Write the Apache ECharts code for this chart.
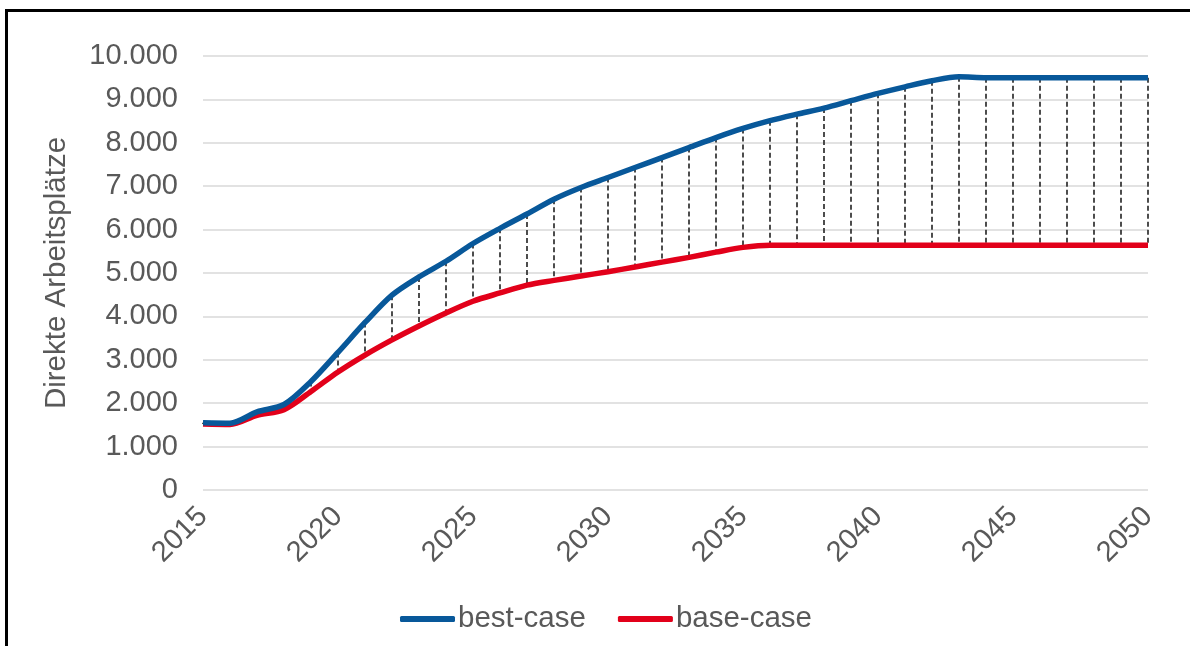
<!DOCTYPE html>
<html>
<head>
<meta charset="utf-8">
<title>Direkte Arbeitsplätze</title>
<script src="https://cdn.jsdelivr.net/npm/echarts@6/dist/echarts.min.js"></script>
<style>
  html, body { margin: 0; padding: 0; background: #fff; overflow: hidden; }
  #chart { position: absolute; left: 0; top: 0; width: 1190px; height: 646px; }
  #frame { position: absolute; left: 5px; top: 9px; width: 1300px; height: 800px;
           border-left: 3px solid #000; border-top: 3px solid #000; pointer-events: none; }
</style>
</head>
<body>
<div id="chart"></div>
<div id="frame"></div>
<script>
// Jahre 2015 - 2050
var jahre = [];
for (var j = 2015; j <= 2050; j++) jahre.push(String(j));

// best-case
var bestCase = [1550, 1540, 1800, 1970, 2500, 3170, 3860, 4490, 4910, 5270,
                5680, 6030, 6360, 6700, 6970, 7200, 7430, 7660, 7890, 8120,
                8330, 8510, 8660, 8800, 8970, 9140, 9290, 9430, 9520, 9500,
                9500, 9500, 9500, 9500, 9500, 9500];

// base-case
var baseCase = [1520, 1510, 1720, 1850, 2270, 2720, 3110, 3460, 3780, 4080,
                4350, 4540, 4720, 4830, 4930, 5030, 5140, 5250, 5360, 5480,
                5590, 5640, 5640, 5640, 5640, 5640, 5640, 5640, 5640, 5640,
                5640, 5640, 5640, 5640, 5640, 5640];

var serienNamen = ['best-case', 'base-case'];
var yMin = 0, yMax = 10000, yStep = 1000;

// Daten fuer die gestrichelten Verbindungslinien
var spannen = jahre.map(function (jahr, i) {
    return [i, bestCase[i], baseCase[i]];
});

function tausender(v) {
    return String(v).replace(/\B(?=(\d{3})+(?!\d))/g, '.');
}

var schrift = 'Liberation Sans, Arial, sans-serif';
var grau = '#595959';

var myChart = echarts.init(document.getElementById('chart'));

var option = {
    animation: false,
    textStyle: { fontFamily: schrift },
    grid: { left: 203, right: 42, top: 56, bottom: 156, containLabel: false },
    legend: {
        data: serienNamen,
        bottom: 7,
        left: 395,
        icon: 'roundRect',
        itemWidth: 55,
        itemHeight: 6,
        itemGap: 32,
        textStyle: { fontSize: 29.5, color: grau, fontFamily: schrift, padding: [0, 0, 0, -2] }
    },
    xAxis: {
        type: 'category',
        data: jahre,
        boundaryGap: false,
        axisLine: { show: false },
        axisTick: { show: false },
        axisLabel: {
            interval: 4,
            rotate: 45,
            margin: 22,
            fontSize: 29,
            color: grau,
            fontFamily: schrift
        },
        splitLine: { show: false }
    },
    yAxis: {
        type: 'value',
        min: yMin,
        max: yMax,
        interval: yStep,
        name: 'Direkte Arbeitsplätze',
        nameLocation: 'middle',
        nameGap: 131,
        nameTextStyle: { fontSize: 29.5, color: grau, fontFamily: schrift },
        axisLine: { show: false },
        axisTick: { show: false },
        axisLabel: {
            margin: 25,
            fontSize: 29,
            color: grau,
            fontFamily: schrift,
            formatter: tausender
        },
        splitLine: { lineStyle: { color: '#d9d9d9', width: 1.5 } }
    },
    series: [
        {
            type: 'custom',
            name: 'spanne',
            z: 1,
            silent: true,
            data: spannen,
            encode: { x: 0, y: [1, 2] },
            renderItem: function (params, api) {
                var oben = api.coord([api.value(0), api.value(1)]);
                var unten = api.coord([api.value(0), api.value(2)]);
                return {
                    type: 'line',
                    shape: { x1: oben[0], y1: oben[1], x2: unten[0], y2: unten[1] },
                    style: { stroke: '#3a3a3a', lineWidth: 1.8, lineDash: [5, 3] }
                };
            }
        },
        {
            name: serienNamen[0],
            type: 'line',
            z: 3,
            data: bestCase,
            smooth: 0.3,
            symbol: 'none',
            lineStyle: { color: '#08589a', width: 5.5 },
            itemStyle: { color: '#08589a' }
        },
        {
            name: serienNamen[1],
            type: 'line',
            z: 2,
            data: baseCase,
            smooth: 0.3,
            symbol: 'none',
            lineStyle: { color: '#e2001a', width: 5.5 },
            itemStyle: { color: '#e2001a' }
        }
    ]
};

myChart.setOption(option);
</script>
</body>
</html>
